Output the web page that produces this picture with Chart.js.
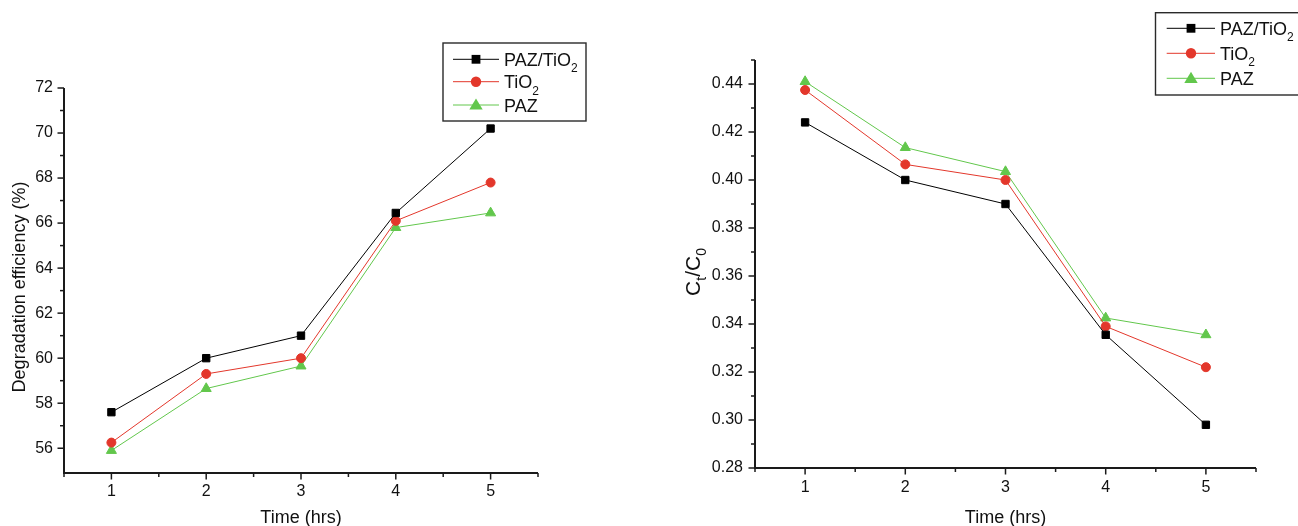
<!DOCTYPE html>
<html><head><meta charset="utf-8">
<script src="https://cdn.jsdelivr.net/npm/chart.js@4.4.1/dist/chart.umd.min.js"></script>
<style>
html,body{margin:0;padding:0;background:#fff;width:1298px;height:526px;overflow:hidden}
canvas{position:absolute;top:0}
#c1{left:0}
#c2{left:649px}
</style></head><body>
<canvas id="c1" width="649" height="526"></canvas>
<canvas id="c2" width="649" height="526"></canvas>
<script>
// ---- data ----
const times = [1, 2, 3, 4, 5];
const seriesLabels = ['PAZ/TiO_2', 'TiO_2', 'PAZ'];
const degPAZTiO2 = [57.6, 60.0, 61.0, 66.45, 70.2];
const degTiO2 = [56.25, 59.3, 60.0, 66.1, 67.8];
const degPAZ = [55.9, 58.65, 59.65, 65.8, 66.45];
const ratioPAZTiO2 = [0.424, 0.400, 0.390, 0.3355, 0.298];
const ratioTiO2 = [0.4375, 0.4065, 0.400, 0.339, 0.322];
const ratioPAZ = [0.441, 0.4135, 0.4035, 0.3425, 0.3355];
const xTickValues = [1, 2, 3, 4, 5];
const leftYTickValues = [56, 58, 60, 62, 64, 66, 68, 70, 72];
const rightYTickValues = [0.28, 0.30, 0.32, 0.34, 0.36, 0.38, 0.40, 0.42, 0.44];
const xTitle = 'Time (hrs)';
const leftYTitle = 'Degradation efficiency (%)';
const rightYTitle = 'C_t/C_0';

// ---- styles ----
const FAMILY = '"Liberation Sans", Arial, Helvetica, sans-serif';
const colors = ['#000000', '#e3372b', '#62c74c'];
const pointStyles = ['rect', 'circle', 'triangle'];
const pointRadii = [5.2, 4.5, 5.8];

function parseRich(text) {
  const segs = [];
  let buf = '';
  for (let i = 0; i < text.length; i++) {
    if (text[i] === '_' && i + 1 < text.length) {
      if (buf) segs.push({t: buf, sub: false});
      buf = '';
      segs.push({t: text[i + 1], sub: true});
      i++;
    } else buf += text[i];
  }
  if (buf) segs.push({t: buf, sub: false});
  return segs;
}
function richWidth(ctx, segs, mainFont, subFont) {
  let w = 0;
  segs.forEach(s => { ctx.font = s.sub ? subFont : mainFont; w += ctx.measureText(s.t).width; });
  return w;
}
function drawRich(ctx, text, x, y, mainFont, subFont, subDy, center) {
  const segs = parseRich(text);
  let cx = x;
  if (center) cx = x - richWidth(ctx, segs, mainFont, subFont) / 2;
  ctx.textAlign = 'left';
  ctx.textBaseline = 'alphabetic';
  segs.forEach(s => {
    ctx.font = s.sub ? subFont : mainFont;
    ctx.fillText(s.t, cx, s.sub ? y + subDy : y);
    cx += ctx.measureText(s.t).width;
  });
}
function drawMarker(ctx, style, x, y, color) {
  ctx.fillStyle = color;
  ctx.beginPath();
  if (style === 'rect') {
    ctx.rect(x - 4.4, y - 4.4, 8.8, 8.8);
  } else if (style === 'circle') {
    ctx.arc(x, y, 5.2, 0, Math.PI * 2);
  } else {
    ctx.moveTo(x, y - 6.5);
    ctx.lineTo(x + 6.7, y + 4.6);
    ctx.lineTo(x - 6.7, y + 4.6);
    ctx.closePath();
  }
  ctx.fill();
}

function makeChart(canvas, series, cfg) {
  const datasets = series.map((arr, i) => ({
    label: seriesLabels[i].replace('_', ''),
    data: times.map((t, j) => ({x: t, y: arr[j]})),
    borderColor: colors[i],
    backgroundColor: colors[i],
    borderWidth: 1,
    pointStyle: pointStyles[i],
    pointRadius: pointRadii[i],
    pointBackgroundColor: colors[i],
    pointBorderColor: colors[i],
    pointBorderWidth: 1,
    tension: 0,
    clip: false
  }));

  const decor = {
    id: 'decor',
    beforeDatasetsDraw(chart) {
      const ctx = chart.ctx;
      const xs = chart.scales.x, ys = chart.scales.y;
      const bottom = ys.bottom, left = xs.left;
      ctx.save();
      ctx.strokeStyle = '#1a1a1a';
      ctx.lineWidth = 1.5;
      for (let v = cfg.xmin; v <= cfg.xmax + 1e-9; v += 0.5) {
        const px = xs.getPixelForValue(v);
        const major = xTickValues.indexOf(v) >= 0;
        ctx.beginPath();
        ctx.moveTo(px, bottom);
        ctx.lineTo(px, bottom + (major ? 6.5 : 4));
        ctx.stroke();
      }
      const yt = cfg.yTicks;
      const step = yt[1] - yt[0];
      yt.forEach(v => {
        const py = ys.getPixelForValue(v);
        ctx.beginPath(); ctx.moveTo(left, py); ctx.lineTo(left - 6.5, py); ctx.stroke();
      });
      const minors = [];
      yt.forEach(v => { minors.push(v + step / 2); });
      minors.push(yt[0] - step / 2);
      minors.forEach(v => {
        if (v < cfg.ymin + step * 0.3 || v > cfg.ymax + 1e-9) return;
        const py = ys.getPixelForValue(v);
        ctx.beginPath(); ctx.moveTo(left, py); ctx.lineTo(left - 4, py); ctx.stroke();
      });
      ctx.lineWidth = 2;
      ctx.beginPath();
      ctx.moveTo(left, ys.top);
      ctx.lineTo(left, bottom);
      ctx.lineTo(xs.right, bottom);
      ctx.stroke();
      ctx.restore();
    },
    afterDraw(chart) {
      const ctx = chart.ctx;
      const xs = chart.scales.x;
      ctx.save();
      ctx.fillStyle = '#111';
      drawRich(ctx, xTitle, (xs.left + xs.right) / 2, 523, '18px ' + FAMILY, '13px ' + FAMILY, 5, true);
      ctx.save();
      ctx.translate(cfg.yTitleX, cfg.yTitleY);
      ctx.rotate(-Math.PI / 2);
      drawRich(ctx, cfg.yTitle, 0, 0, cfg.yTitleFont + 'px ' + FAMILY, cfg.ySubFont + 'px ' + FAMILY, 6, true);
      ctx.restore();
      const L = cfg.legend;
      ctx.strokeStyle = '#2a2a2a';
      ctx.lineWidth = 1.4;
      ctx.strokeRect(L.x, L.y, L.w, L.h);
      chart.data.datasets.forEach((ds, i) => {
        const ry = L.rows[i];
        ctx.strokeStyle = ds.borderColor;
        ctx.lineWidth = 1;
        ctx.beginPath(); ctx.moveTo(L.lx1, ry); ctx.lineTo(L.lx2, ry); ctx.stroke();
        drawMarker(ctx, ds.pointStyle, L.mx, ry, ds.borderColor);
        ctx.fillStyle = '#111';
        drawRich(ctx, seriesLabels[i], L.tx, ry + 6.5, '18px ' + FAMILY, '12px ' + FAMILY, 6.5, false);
      });
      ctx.restore();
    }
  };

  return new Chart(canvas, {
    type: 'line',
    data: {datasets},
    options: {
      responsive: false,
      animation: false,
      devicePixelRatio: 1,
      layout: {padding: {left: 0, top: cfg.padTop, right: cfg.padRight, bottom: 0}},
      plugins: {legend: {display: false}, tooltip: {enabled: false}},
      scales: {
        x: {
          type: 'linear', min: cfg.xmin, max: cfg.xmax,
          grid: {display: false, drawTicks: false},
          border: {display: false},
          afterBuildTicks: s => { s.ticks = xTickValues.map(v => ({value: v})); },
          afterFit: s => { s.height = cfg.xh; },
          ticks: {padding: cfg.xpad, color: '#111', font: {family: FAMILY, size: 16}, maxRotation: 0, autoSkip: false,
                  callback: v => String(v)}
        },
        y: {
          type: 'linear', min: cfg.ymin, max: cfg.ymax,
          grid: {display: false, drawTicks: false},
          border: {display: false},
          afterBuildTicks: s => { s.ticks = cfg.yTicks.map(v => ({value: v})); },
          afterFit: s => { s.width = cfg.yw; },
          ticks: {padding: cfg.ypad, color: '#111', font: {family: FAMILY, size: 16}, autoSkip: false,
                  callback: v => v.toFixed(cfg.decimals)}
        }
      }
    },
    plugins: [decor]
  });
}

makeChart(document.getElementById('c1'), [degPAZTiO2, degTiO2, degPAZ], {
  xmin: 0.5, xmax: 5.5, ymin: 54.9, ymax: 72, yTicks: leftYTickValues, decimals: 0,
  padTop: 88, padRight: 111, yw: 64, xh: 53, xpad: 9, ypad: 11,
  yTitle: leftYTitle, yTitleX: 25, yTitleY: 287, yTitleFont: 18, ySubFont: 13,
  legend: {x: 443, y: 43, w: 143, h: 78, lx1: 453, lx2: 499, mx: 476, tx: 504, rows: [59.3, 81.7, 105]}
});
makeChart(document.getElementById('c2'), [ratioPAZTiO2, ratioTiO2, ratioPAZ], {
  xmin: 0.5, xmax: 5.5, ymin: 0.28, ymax: 0.45, yTicks: rightYTickValues, decimals: 2,
  padTop: 60, padRight: 42, yw: 106, xh: 58, xpad: 10, ypad: 12,
  yTitle: rightYTitle, yTitleX: 51, yTitleY: 272, yTitleFont: 21, ySubFont: 14,
  legend: {x: 506.5, y: 12.7, w: 150, h: 82.3, lx1: 517.7, lx2: 566, mx: 542, tx: 571, rows: [28.3, 53.3, 78.3]}
});
</script>
</body></html>
